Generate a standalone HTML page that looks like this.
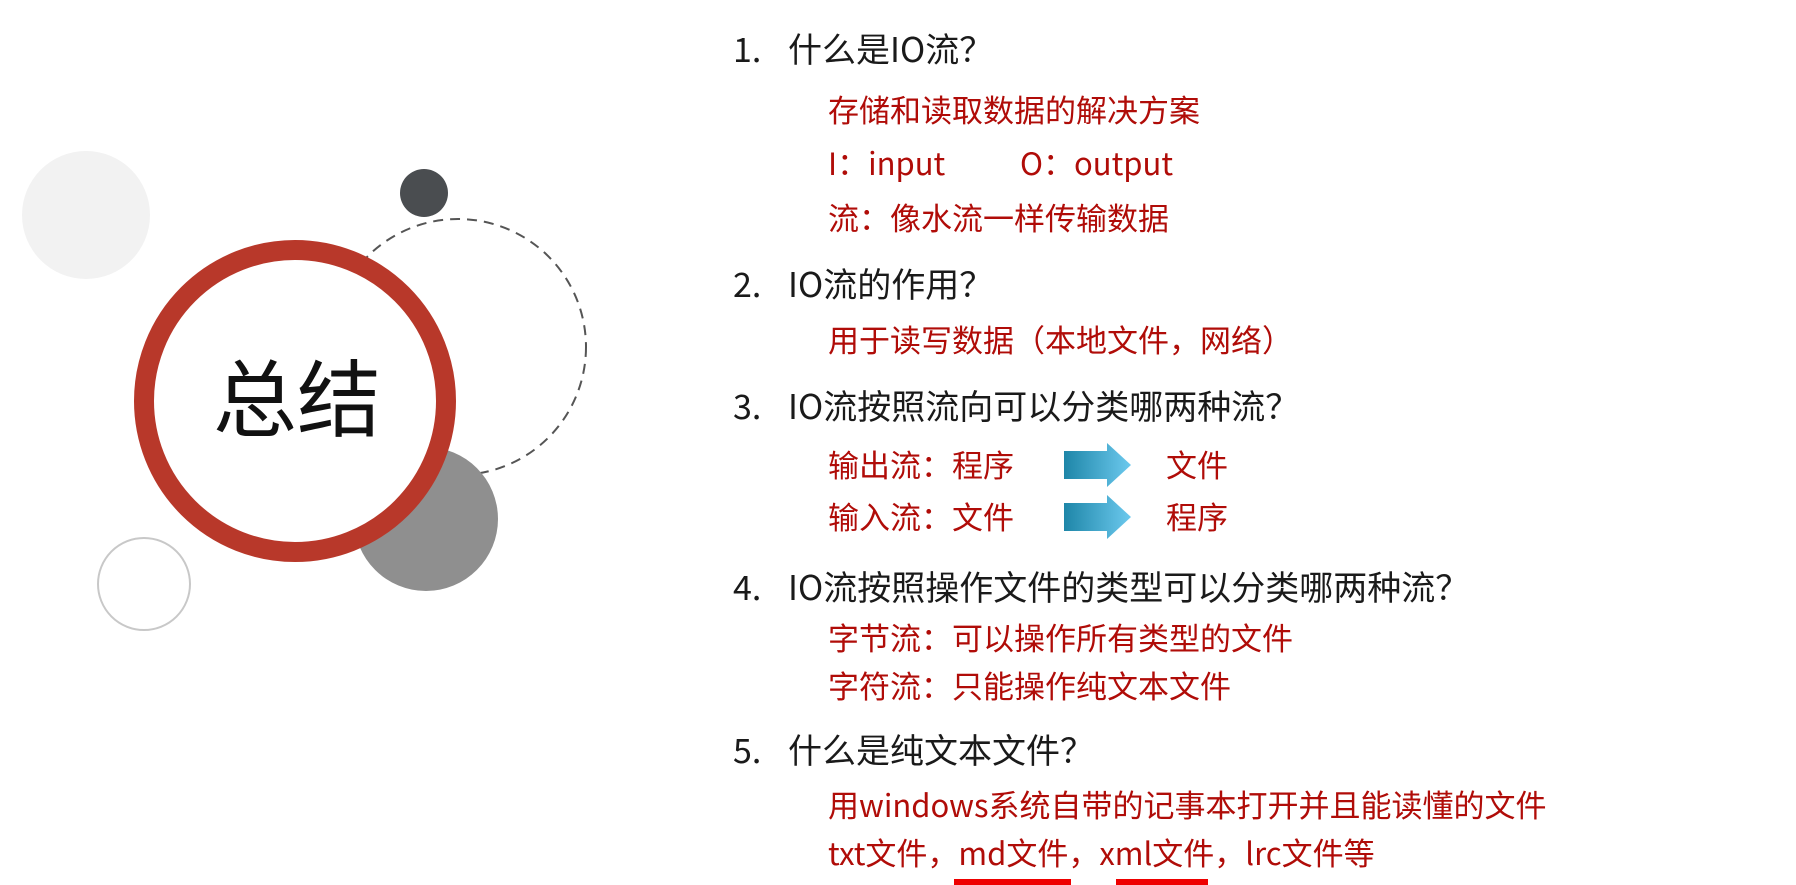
<!DOCTYPE html>
<html><head><meta charset="utf-8"><style>
body{margin:0;width:1796px;height:885px;background:#fff;position:relative;overflow:hidden;font-family:"Noto Sans CJK SC","Liberation Sans",sans-serif}
.t{position:absolute;white-space:pre;line-height:1}
.h{font-size:34px;color:#1a1a1a}
.r{font-size:31px;color:#b00c08}
.n{position:absolute;font-size:34px;color:#1a1a1a;line-height:1}
</style></head><body>
<svg width="1796" height="885" style="position:absolute;left:0;top:0">
<defs><linearGradient id="g" x1="0" x2="1" y1="0" y2="0"><stop offset="0" stop-color="#1e86a8"/><stop offset="1" stop-color="#6cc9ee"/></linearGradient></defs>
<circle cx="86" cy="215" r="64" fill="#f2f2f2"/>
<circle cx="458" cy="347" r="128" fill="none" stroke="#555" stroke-width="2" stroke-dasharray="10 7"/>
<circle cx="424" cy="193" r="24" fill="#4a4d50"/>
<circle cx="426" cy="519" r="72" fill="#8f8f8f"/>
<circle cx="144" cy="584" r="46" fill="none" stroke="#c8c8c8" stroke-width="2"/>
<circle cx="295" cy="401" r="151" fill="#fff" stroke="#b8382a" stroke-width="20"/>
<path d="M1064 451 H1107 V443 L1131 465 L1107 487 V479 H1064 Z" fill="url(#g)"/>
<path d="M1064 503 H1107 V495 L1131 517 L1107 539 V531 H1064 Z" fill="url(#g)"/>
<rect x="954" y="879" width="117" height="6" fill="#e00"/>
<rect x="1116" y="879" width="92" height="6" fill="#e00"/>
</svg>
<div class="t" style="left:213px;top:353px;font-size:84px;color:#111">总结</div>

<div class="n" style="left:733px;top:31px">1.</div><div class="t h" style="left:788px;top:31px">什么是IO流？</div>
<div class="t r" style="left:828px;top:93px">存储和读取数据的解决方案</div>
<div class="t r" style="left:828px;top:146px">I：input</div><div class="t r" style="left:1020px;top:146px">O：output</div>
<div class="t r" style="left:828px;top:201px">流：像水流一样传输数据</div>

<div class="n" style="left:733px;top:266px">2.</div><div class="t h" style="left:788px;top:266px">IO流的作用？</div>
<div class="t r" style="left:828px;top:323px">用于读写数据（本地文件，网络）</div>

<div class="n" style="left:733px;top:388px">3.</div><div class="t h" style="left:788px;top:388px">IO流按照流向可以分类哪两种流？</div>
<div class="t r" style="left:828px;top:448px">输出流：程序</div><div class="t r" style="left:1166px;top:448px">文件</div>
<div class="t r" style="left:828px;top:500px">输入流：文件</div><div class="t r" style="left:1166px;top:500px">程序</div>

<div class="n" style="left:733px;top:569px">4.</div><div class="t h" style="left:788px;top:569px">IO流按照操作文件的类型可以分类哪两种流？</div>
<div class="t r" style="left:828px;top:621px">字节流：可以操作所有类型的文件</div>
<div class="t r" style="left:828px;top:669px">字符流：只能操作纯文本文件</div>

<div class="n" style="left:733px;top:732px">5.</div><div class="t h" style="left:788px;top:732px">什么是纯文本文件？</div>
<div class="t r" style="left:828px;top:788px">用windows系统自带的记事本打开并且能读懂的文件</div>
<div class="t r" style="left:828px;top:836px">txt文件，md文件，xml文件，lrc文件等</div>
</body></html>
